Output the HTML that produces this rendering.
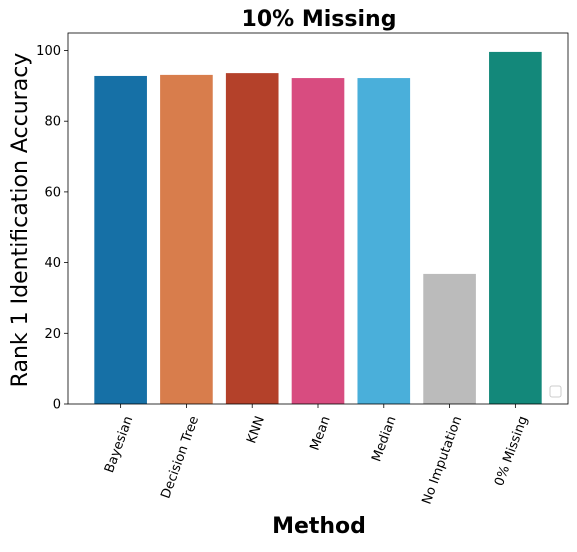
<!DOCTYPE html>
<html><head><meta charset="utf-8"><style>
body{margin:0;background:#fff}
svg text{font-family:"DejaVu Sans","Liberation Sans",sans-serif}
</style></head><body>
<svg id="c" width="577" height="547"></svg>
<script>
const categories=["Bayesian","Decision Tree","KNN","Mean","Median","No Imputation","0% Missing"];
const values=[92.8,93.1,93.6,92.2,92.2,36.8,99.6];
const colors=["#1670a6","#d87d4c","#b4412a","#d84c80","#4aafda","#bbbbbb","#13887a"];
const yTicks=[0,20,40,60,80,100];
const L=68,R=568,T=33,B=404;
const x=i=>L+(i+0.8)/7.6*(R-L);
const y=v=>B-v/100*(B-50.5);
const NS="http://www.w3.org/2000/svg";
const svg=document.getElementById('c');
function mk(t,a,p){const e=document.createElementNS(NS,t);for(const k in a)e.setAttribute(k,a[k]);(p||svg).appendChild(e);return e;}
const bw=0.8/7.6*(R-L);
values.forEach((v,i)=>{
 const r=mk('rect',{x:x(i)-bw/2,y:y(v),width:bw,height:B-y(v),fill:colors[i]});
 
 
 mk('line',{x1:x(i),x2:x(i),y1:B,y2:B+4,stroke:'#000','stroke-width':0.8});
 const t=mk('text',{x:0,y:0,'font-size':13,'text-anchor':'end',transform:`translate(${x(i)+12},${B+14}) rotate(-70)`});
 t.textContent=categories[i];
 
 
});
yTicks.forEach(v=>{
 mk('line',{x1:L-4,x2:L,y1:y(v),y2:y(v),stroke:'#000','stroke-width':0.8});
 const t=mk('text',{x:L-7,y:y(v)+4.5,'font-size':13,'text-anchor':'end'});
 t.textContent=v;
 
 
});
const f=mk('rect',{x:L,y:T,width:R-L,height:B-T,fill:'none',stroke:'#000','stroke-width':0.8});

const lg=mk('rect',{x:550,y:386,width:11,height:11,rx:2,fill:'#fff',stroke:'#ccc','stroke-width':1});

const ti=mk('text',{x:319,y:26,'font-size':22,'font-weight':'bold','text-anchor':'middle'});ti.textContent='10% Missing';

const xt=mk('text',{x:319,y:533,'font-size':22,'font-weight':'bold','text-anchor':'middle'});xt.textContent='Method';

const yt=mk('text',{x:0,y:0,'font-size':22,'text-anchor':'middle',transform:'translate(27,220) rotate(-90)'});yt.textContent='Rank 1 Identification Accuracy';

</script>
</body></html>
